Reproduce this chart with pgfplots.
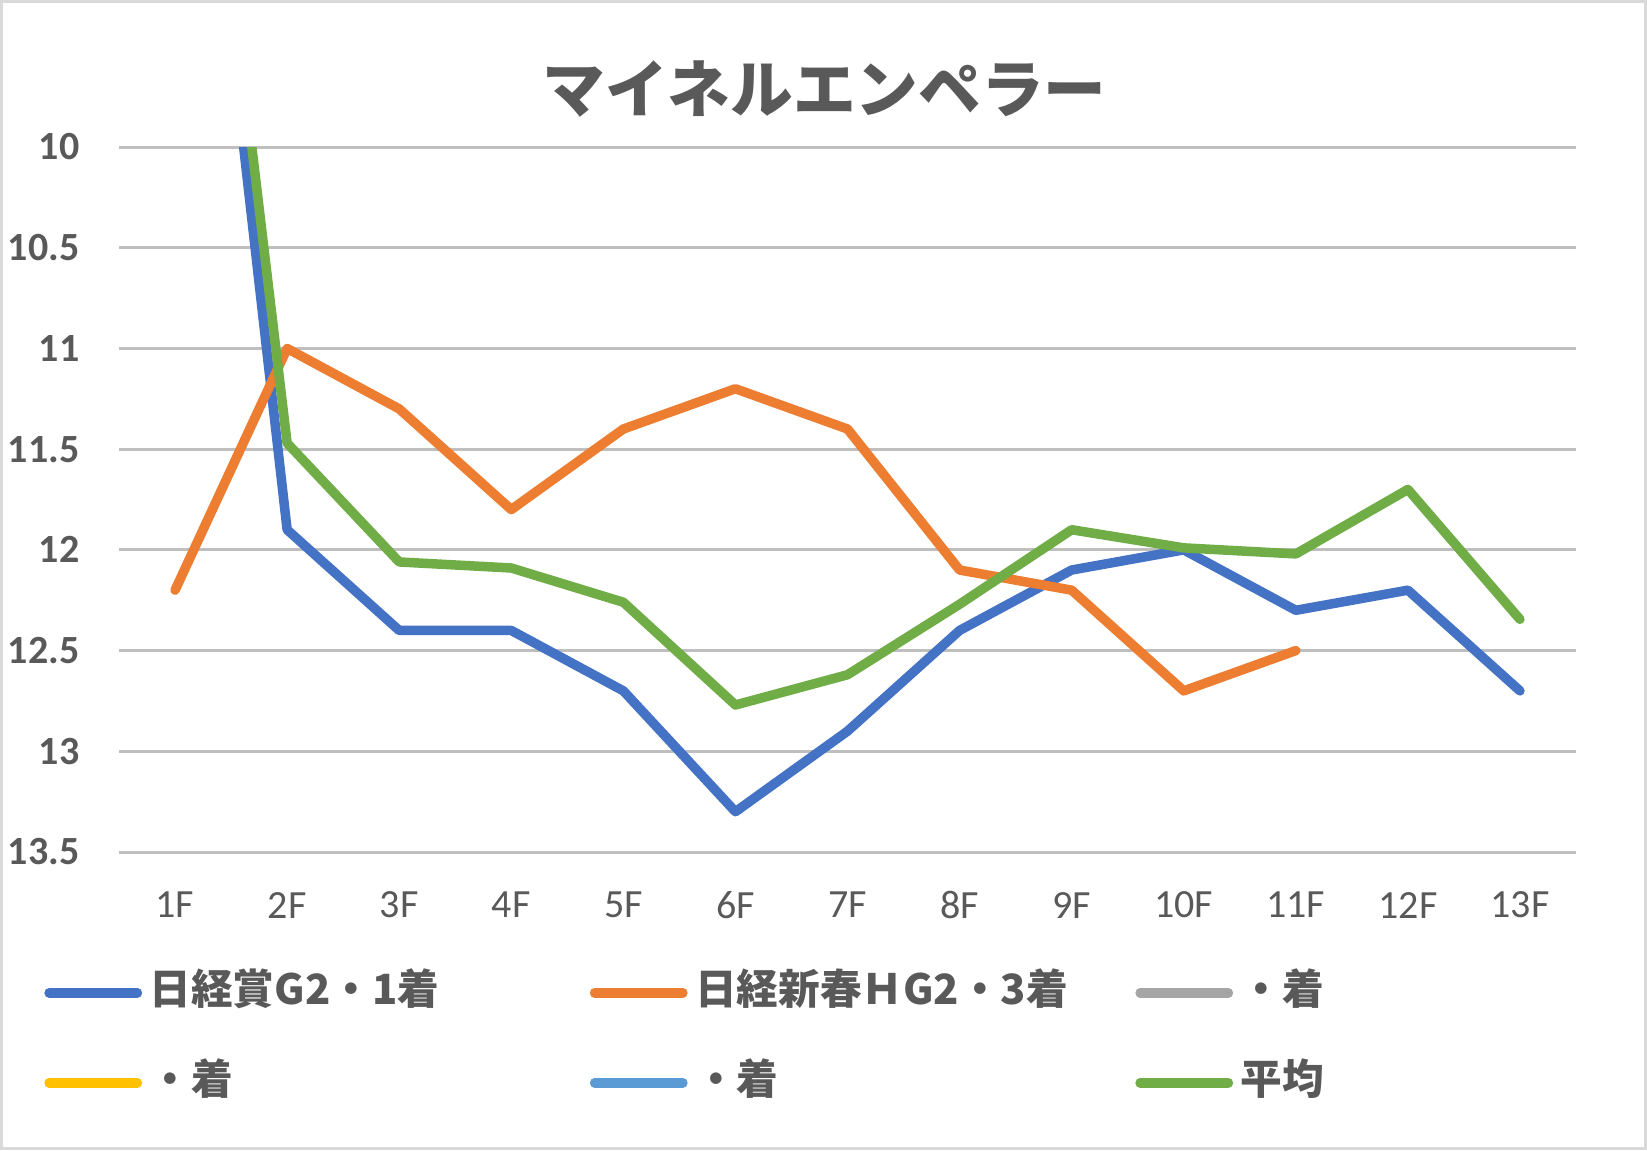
\documentclass[border=0pt]{standalone}
\usepackage{fontspec}
\setmainfont{Carlito}
\newfontfamily\cjk{Noto Sans CJK JP}
\usepackage{pgfplots}
\pgfplotsset{compat=1.18}
\definecolor{cblue}{HTML}{4472C4}
\definecolor{corange}{HTML}{ED7D31}
\definecolor{cgray}{HTML}{A5A5A5}
\definecolor{cgold}{HTML}{FFC000}
\definecolor{clblue}{HTML}{5B9BD5}
\definecolor{cgreen}{HTML}{70AD47}
\definecolor{tgray}{HTML}{595959}
\definecolor{grid}{HTML}{D9D9D9}
\begin{document}
\begin{tikzpicture}
\useasboundingbox (0,0) rectangle (494.1pt,345pt);
\draw[grid, line width=0.9pt] (0.45pt,0.45pt) rectangle (493.65pt,344.55pt);
\begin{axis}[
  at={(35.7pt,89.4pt)}, anchor=south west,
  scale only axis, width=437.1pt, height=211.5pt,
  xmin=-0.5, xmax=12.5, ymin=10, ymax=13.5, y dir=reverse,
  xtick={0,...,12},
  xticklabels={1F,2F,3F,4F,5F,6F,7F,8F,9F,10F,11F,12F,13F},
  ytick={10,10.5,...,13.5},
  tick style={draw=none},
  axis line style={draw=none},
  xmajorgrids=false,
  ymajorgrids=true, grid style={grid, line width=0.9pt},
  /pgf/number format/assume math mode=true,
  yticklabel style={font=\bfseries\fontsize{12}{12}\selectfont, text=tgray, anchor=east, inner sep=0pt, xshift=-11.7pt},
  xticklabel style={font=\fontsize{12}{12}\selectfont, text=tgray, anchor=center, inner sep=0pt, yshift=-15.9pt},
  every axis plot/.append style={line width=2.85pt, line cap=round, line join=round},
  legend columns=3,
  legend image code/.code={\draw[line width=2.85pt, line cap=round] (0pt,0pt) -- (26.5pt,0pt);},
  legend style={at={(axis description cs:-0.0517,-0.1681)}, anchor=north west, draw=none, fill=none,
    inner sep=0pt, row sep=14.0pt, column sep=0pt,
    font=\cjk\bfseries\fontsize{12.5}{12.5}\selectfont, text=tgray,
    nodes={inner sep=0pt, text height=10pt, text depth=3pt},
    /tikz/every odd column/.append style={column sep=2.2pt}},
]
\addplot[cblue] coordinates {(0,7.0) (1,11.9) (2,12.4) (3,12.4) (4,12.7) (5,13.3) (6,12.9) (7,12.4) (8,12.1) (9,12.0) (10,12.3) (11,12.2) (12,12.7)};
\addlegendentry{\makebox[132.1pt][l]{日経賞G2・1着}}
\addplot[corange] coordinates {(0,12.2) (1,11.0) (2,11.3) (3,11.8) (4,11.4) (5,11.2) (6,11.4) (7,12.1) (8,12.2) (9,12.7) (10,12.5)};
\addlegendentry{\makebox[132.1pt][l]{日経新春ＨG2・3着}}
\addlegendimage{cgray}
\addlegendentry{\makebox[132.1pt][l]{・着}}
\addlegendimage{cgold}
\addlegendentry{\makebox[132.1pt][l]{・着}}
\addlegendimage{clblue}
\addlegendentry{\makebox[132.1pt][l]{・着}}
\addplot[cgreen] coordinates {(0,6.8) (1,11.47) (2,12.06) (3,12.09) (4,12.26) (5,12.77) (6,12.62) (7,12.27) (8,11.9) (9,11.99) (10,12.02) (11,11.7) (12,12.345)};
\addlegendentry{\makebox[132.1pt][l]{平均}}
\end{axis}
\node[font=\cjk\bfseries\fontsize{18.8}{18.8}\selectfont, text=tgray] at (247.3pt,318.3pt) {マイネルエンペラー};
\end{tikzpicture}
\end{document}
